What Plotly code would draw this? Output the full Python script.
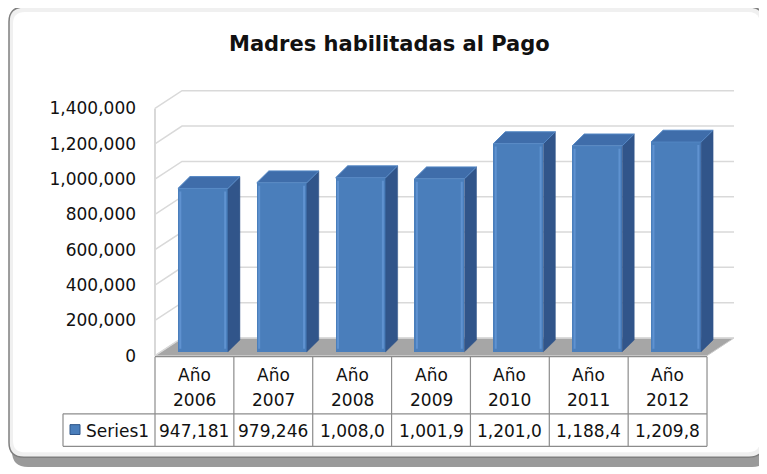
import plotly.graph_objs as go

# data
years = ['2006', '2007', '2008', '2009', '2010', '2011', '2012']
values = [947181, 979246, 1008000, 1001900, 1201000, 1188400, 1209800]
tick_vals = [0, 200000, 400000, 600000, 800000, 1000000, 1200000, 1400000]
series_name = 'Series1'
title = 'Madres habilitadas al Pago'

# colours
FRONT = '#4A7EBB'
SIDE = '#31558A'
TOP = '#3F6DAA'
GRID = '#D9D9D9'
FLOOR = '#A6A6A6'
TXT = '#111111'
FONT = 'DejaVu Sans'

# page geometry (screen pixels); the page body adds an 8px margin
OFF = 8
W, H = 767 - OFF, 474 - OFF
COLW = 78.86            # width of one category column
X_LEFT = 155            # front-left corner of the plot box
Y_ZERO = 361            # front floor line
K = 1400000 / 251       # value units per pixel
WDX, WDY = 27 / COLW, 18 * K   # wall depth
BDX, BDY = 12 / COLW, 12 * K   # bar depth
BW, BOFF = 50 / COLW, -16.5 / COLW
BASE = 4 * K


def px_x(u):
    return X_LEFT + (u + 0.5) * COLW


def px_y(v):
    return Y_ZERO - v / K


def paper_x(px):
    return (px - OFF) / W


def paper_y(py):
    return 1 - (py - OFF) / H


x_range = [-0.55, 6.5 + WDX + 0.03]
y_range = [-3 * K, (Y_ZERO - 88) * K]
x_lo, x_hi = -0.5, 6.5

fig = go.Figure()

# bars: front faces
idx = list(range(len(years)))
fig.add_trace(go.Bar(
    x=idx, y=[v - BASE for v in values], base=BASE,
    width=BW, offset=BOFF,
    marker=dict(color=FRONT, line=dict(width=0)), hoverinfo='skip'))

# bars: side and top faces
for i, v in zip(idx, values):
    xl = i + BOFF
    xr = xl + BW
    fig.add_trace(go.Scatter(
        x=[xr, xr + BDX, xr + BDX, xr, xr],
        y=[BASE, BASE + BDY, v + BDY, v, BASE],
        fill='toself', fillcolor=SIDE, mode='lines',
        line=dict(color=SIDE, width=0.5), hoverinfo='skip'))
    fig.add_trace(go.Scatter(
        x=[xl, xl + BDX, xr + BDX, xr, xl],
        y=[v, v + BDY, v + BDY, v, v],
        fill='toself', fillcolor=TOP, mode='lines',
        line=dict(color='#5286C4', width=1), hoverinfo='skip'))
    # bevel highlights on the front face
    fig.add_trace(go.Scatter(
        x=[xl + 0.03, xl + 0.03, None, xr - 0.035, xr - 0.035],
        y=[BASE + K * 3, v - K * 3, None, BASE + K * 3, v - K * 3], mode='lines',
        line=dict(color='#5F92D0', width=2), hoverinfo='skip'))


def rounded(x0, y0, x1, y1, r):
    # rounded rectangle path in paper coords, from pixel box
    rx, ry = r / W, r / H
    a, b = paper_x(x0), paper_x(x1)
    t, btm = paper_y(y0), paper_y(y1)
    return (f'M {a + rx},{t} L {b - rx},{t} Q {b},{t} {b},{t - ry} '
            f'L {b},{btm + ry} Q {b},{btm} {b - rx},{btm} '
            f'L {a + rx},{btm} Q {a},{btm} {a},{btm + ry} '
            f'L {a},{t - ry} Q {a},{t} {a + rx},{t} Z')


shapes = [
    # shadow + frame
    dict(type='path', xref='paper', yref='paper', layer='below',
         path=rounded(12, 11, 768, 474, 16), fillcolor='#9A9A9A', line=dict(width=0)),
    dict(type='path', xref='paper', yref='paper', layer='below',
         path=rounded(9, 7, 764, 464, 15), fillcolor='#F0F0F0',
         line=dict(color='#7F7F7F', width=1.5)),
    dict(type='path', xref='paper', yref='paper', layer='below',
         path=rounded(13, 12, 760, 459, 12), fillcolor='white', line=dict(width=0)),
    # floor
    dict(type='path', xref='x', yref='y', layer='below',
         path=f'M {x_lo},0 L {x_hi},0 L {x_hi + WDX},{WDY} L {x_lo + WDX},{WDY} Z',
         fillcolor=FLOOR, line=dict(color='#C9C9C9', width=1)),
    # left wall front edge
    dict(type='line', xref='x', yref='y', layer='below',
         x0=x_lo, x1=x_lo, y0=0, y1=tick_vals[-1],
         line=dict(color='#BFBFBF', width=1.2)),
]
# back wall gridlines + left wall diagonals
for v in tick_vals:
    shapes.append(dict(type='path', xref='x', yref='y', layer='below',
                       path=f'M {x_lo},{v} L {x_lo + WDX},{v + WDY} L {x_hi + WDX},{v + WDY}',
                       line=dict(color=GRID, width=1.5)))

# data table lines
LINE = dict(color='#8C8C8C', width=1.2)
T_TOP, T_MID, T_BOT, T_LEG = 362, 420, 453, 63
shapes.append(dict(type='line', xref='paper', yref='paper', line=LINE,
                   x0=paper_x(px_x(-0.5)), x1=paper_x(px_x(6.5)),
                   y0=paper_y(T_TOP), y1=paper_y(T_TOP)))
for yy in (T_MID, T_BOT):
    shapes.append(dict(type='line', xref='paper', yref='paper', line=LINE,
                       x0=paper_x(T_LEG), x1=paper_x(px_x(6.5)),
                       y0=paper_y(yy), y1=paper_y(yy)))
for k in range(len(years) + 1):
    xp = paper_x(px_x(k - 0.5))
    shapes.append(dict(type='line', xref='paper', yref='paper', line=LINE,
                       x0=xp, x1=xp, y0=paper_y(T_TOP), y1=paper_y(T_BOT)))
shapes.append(dict(type='line', xref='paper', yref='paper', line=LINE,
                   x0=paper_x(T_LEG), x1=paper_x(T_LEG),
                   y0=paper_y(T_MID), y1=paper_y(T_BOT)))
# legend key
shapes.append(dict(type='rect', xref='paper', yref='paper',
                   x0=paper_x(70), x1=paper_x(80), y0=paper_y(441), y1=paper_y(431),
                   fillcolor=FRONT, line=dict(color='#2F5689', width=1)))

annotations = [dict(text=title, xref='paper', yref='paper', x=paper_x(389), y=paper_y(45),
                    showarrow=False, font=dict(family=FONT, size=21, color=TXT, weight='bold'),
                    xanchor='center', yanchor='middle')]
for i, (yr, v) in enumerate(zip(years, values)):
    for text, py in (('Año', 381), (yr, 406), (f'{v:,}'[:7], 437)):
        annotations.append(dict(text=text, xref='x', yref='paper', x=i, y=paper_y(py),
                                showarrow=False, xanchor='center', yanchor='middle',
                                font=dict(family=FONT, size=17, color=TXT)))
annotations.append(dict(text=series_name, xref='paper', yref='paper',
                        x=paper_x(84), y=paper_y(437), showarrow=False,
                        xanchor='left', yanchor='middle',
                        font=dict(family=FONT, size=17, color=TXT)))

fig.update_layout(
    width=W, height=H,
    margin=dict(l=0, r=0, t=0, b=0),
    paper_bgcolor='white',
    plot_bgcolor='rgba(0,0,0,0)',
    showlegend=False,
    bargap=0,
    xaxis=dict(range=x_range, domain=[paper_x(px_x(x_range[0])), paper_x(px_x(x_range[1]))],
               visible=False, fixedrange=True),
    yaxis=dict(range=y_range, domain=[paper_y(px_y(y_range[0])), paper_y(px_y(y_range[1]))],
               tickmode='array', tickvals=tick_vals,
               ticktext=[f'{v:,}' for v in tick_vals],
               tickfont=dict(family=FONT, size=17, color=TXT),
               showgrid=False, zeroline=False, showline=False,
               ticks='', ticklabelstandoff=14, fixedrange=True),
    shapes=shapes,
    annotations=annotations,
)

fig.write_html('out.html')
